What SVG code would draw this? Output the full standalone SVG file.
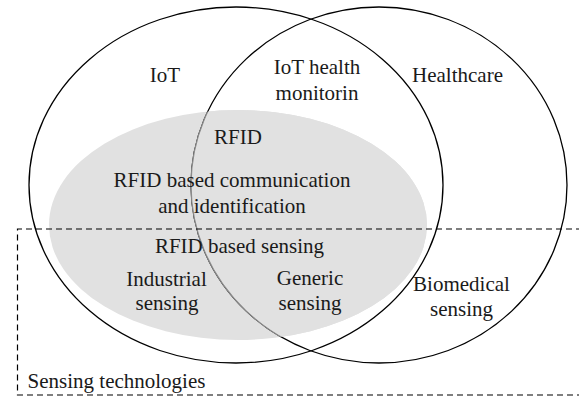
<svg xmlns="http://www.w3.org/2000/svg" width="579" height="398" viewBox="0 0 579 398">
<style>
  text { font-family: "Liberation Serif", "Times New Roman", serif; font-size: 21px; fill: #1a1a1a; text-anchor: middle; }
  .set { fill: none; stroke: #000; stroke-width: 1.3; }
  .inner { fill: none; stroke: #8a8a8a; stroke-width: 1.2; }
  .grey { fill: #e1e1e1; stroke: none; }
  .dash { fill: none; stroke: #000; stroke-width: 1.2; stroke-dasharray: 6 4; }
</style>
<defs>
  <clipPath id="greyClip"><ellipse cx="238" cy="225" rx="189" ry="115"/></clipPath>
</defs>
<g id="rfid">
  <ellipse class="grey" cx="238" cy="225" rx="189" ry="115"/>
</g>
<g id="iot">
  <ellipse class="set" cx="236" cy="185" rx="207" ry="178"/>
</g>
<g id="healthcare">
  <ellipse class="set" cx="379" cy="185" rx="188" ry="178"/>
  <ellipse cx="379" cy="185" rx="188" ry="178" fill="#e1e1e1" stroke="none" clip-path="url(#greyClip)"/>
  <ellipse class="inner" cx="379" cy="185" rx="188" ry="178" clip-path="url(#greyClip)"/>
</g>
<g id="sensing">
  <path class="dash" d="M582 229 H17.5 V395 H582"/>
</g>
<g id="connectors"></g>
<g id="labels">
  <text x="165" y="82">IoT</text>
  <text x="317" y="74">IoT health</text>
  <text x="317" y="100">monitorin</text>
  <text x="457.5" y="82">Healthcare</text>
  <text x="238" y="144">RFID</text>
  <text x="232" y="187">RFID based communication</text>
  <text x="232" y="213">and identification</text>
  <text x="239.5" y="253">RFID based sensing</text>
  <text x="166.5" y="286">Industrial</text>
  <text x="167" y="310">sensing</text>
  <text x="310" y="285">Generic</text>
  <text x="310" y="310">sensing</text>
  <text x="461.5" y="291">Biomedical</text>
  <text x="461.5" y="316">sensing</text>
  <text x="116.5" y="388">Sensing technologies</text>
</g>
</svg>
